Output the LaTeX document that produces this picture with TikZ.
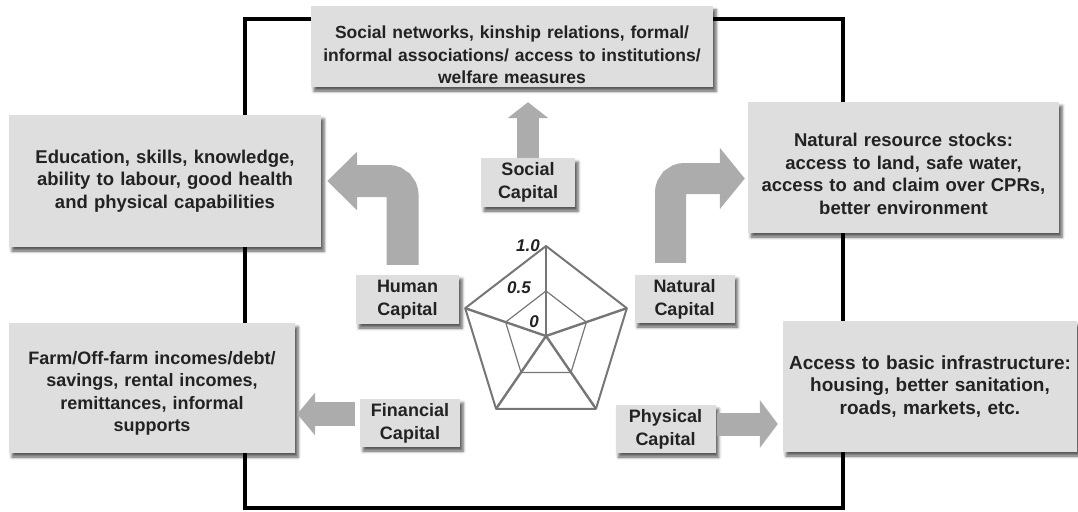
\documentclass[tikz,border=0pt]{standalone}
\usepackage{fontspec}
\setmainfont{Liberation Sans}
\usetikzlibrary{arrows.meta,shadows.blur}
\definecolor{boxgray}{RGB}{222,222,222}
\definecolor{arrowgray}{RGB}{172,172,172}
\definecolor{linegray}{RGB}{118,118,118}
\definecolor{textgray}{RGB}{34,34,34}
\newcommand{\boxfont}[1]{\fontsize{#1}{22.5}\selectfont\bfseries}
\tikzset{
  >=latex,
  fatarrow/.style n args={3}{draw=arrowgray,line width=#1,-{Triangle[length=#2,width=#3]}},
}
\tikzstyle{every node}=[font=\boxfont{18.5},text=textgray]
\tikzstyle{infobox}=[fill=boxgray,align=center,inner sep=2pt,
  blur shadow={shadow xshift=3pt,shadow yshift=-4pt,shadow blur radius=3pt,shadow opacity=65}]
\tikzstyle{capbox}=[infobox,font=\fontsize{18}{23}\selectfont\bfseries,text width=96pt,minimum height=48pt]
\tikzstyle{numlabel}=[font=\fontsize{17}{20}\selectfont\bfseries\itshape,inner sep=1pt]
\tikzstyle{spoke}=[linegray,line width=2.4pt]

\begin{document}
\begin{tikzpicture}[x=1pt,y=-1pt]
        \useasboundingbox (0,0) rectangle (1078,511);
        \draw[line width=4pt] (245,19) rectangle (843,508);
        % outer boxes
        \node[infobox,font=\boxfont{17.5},text width=398pt,minimum height=81pt] (socnet) at (512,46.5)
          {\rule{0pt}{30pt}Social networks, kinship relations, formal/\\informal associations/ access to institutions/\\welfare measures};
        \node[infobox,text width=308pt,minimum height=132pt] (edu) at (165,181)
          {Education, skills, knowledge,\\ability to labour, good health\\and physical capabilities};
        \node[infobox,font=\boxfont{18},text width=282pt,minimum height=130pt] (farm) at (152,388)
          {\rule{0pt}{24pt}Farm/Off-farm incomes/debt/\\savings, rental incomes,\\remittances, informal\\supports};
        \node[infobox,text width=307pt,minimum height=131pt] (natres) at (903.5,167.5)
          {\rule{0pt}{26.5pt}Natural resource stocks:\\access to land, safe water,\\access to and claim over CPRs,\\better environment};
        \node[infobox,font=\boxfont{19},text width=290pt,minimum height=131pt] (infra) at (930,386.5)
          {Access to basic infrastructure:\\housing, better sanitation,\\roads, markets, etc.};
        % capitals
        \node[capbox,text width=90pt,minimum height=49pt] (social) at (528,182.5) {Social\\Capital};
        \node[capbox,text width=99pt,minimum height=49pt] (human) at (407.5,299.5) {Human\\Capital};
        \node[capbox] (natural) at (684.5,299) {Natural\\Capital};
        \node[capbox] (financial) at (410,423) {Financial\\Capital};
        \node[capbox] (physical) at (665.5,429) {Physical\\Capital};
        % arrows
        \coordinate (socbase) at (social.north |- socnet.south);
        \coordinate (finbase) at ([yshift=9pt]financial.west);
        \coordinate (physbase) at ([yshift=5pt]physical.east);
        \draw[fatarrow={22pt}{16pt}{40pt}] (social.north) -- ([yshift=-15pt]socbase);
        \draw[fatarrow={32pt}{30pt}{57pt},rounded corners=14pt]
          ([xshift=-5pt,yshift=10pt]human.north) |- ([xshift=6pt]edu.east);
        \draw[fatarrow={31pt}{25pt}{60pt},rounded corners=14pt]
          ([xshift=-14pt,yshift=12pt]natural.north) |- ([xshift=-3pt,yshift=-11pt]natres.west);
        \draw[fatarrow={24pt}{18pt}{42pt}] ([xshift=-5pt]finbase) -- ([xshift=2pt]finbase -| farm.east);
        \draw[fatarrow={23pt}{18pt}{47pt}] ([xshift=1pt]physbase) -- ([xshift=-5pt]physbase -| infra.west);
        % radar
        \coordinate (c) at (546,336);
        \foreach \i/\a in {1/90,2/162,3/234,4/306,5/18}{
          \coordinate (o\i) at ({546+85*cos(\a)},{336-90*sin(\a)});
          \coordinate (m\i) at ({546+42.5*cos(\a)},{336-45*sin(\a)});
        }
        \draw[linegray,line width=1.2pt] (m1)--(m2)--(m3)--(m4)--(m5)--cycle;
        \draw[linegray,line width=2pt,line join=round] (o1)--(o2)--(o3)--(o4)--(o5)--cycle;
        \foreach \i in {1,...,5} \draw[spoke] (c)--(o\i);
        \node[numlabel,anchor=east] (lbltop) at ([xshift=-5pt]o1) {1.0};
        \node[numlabel,anchor=east] (lblmid) at ([xshift=-14pt,yshift=3pt]m1) {0.5};
        \node[numlabel] (lblzero) at (534,322) {0};
      \end{tikzpicture}
\end{document}
